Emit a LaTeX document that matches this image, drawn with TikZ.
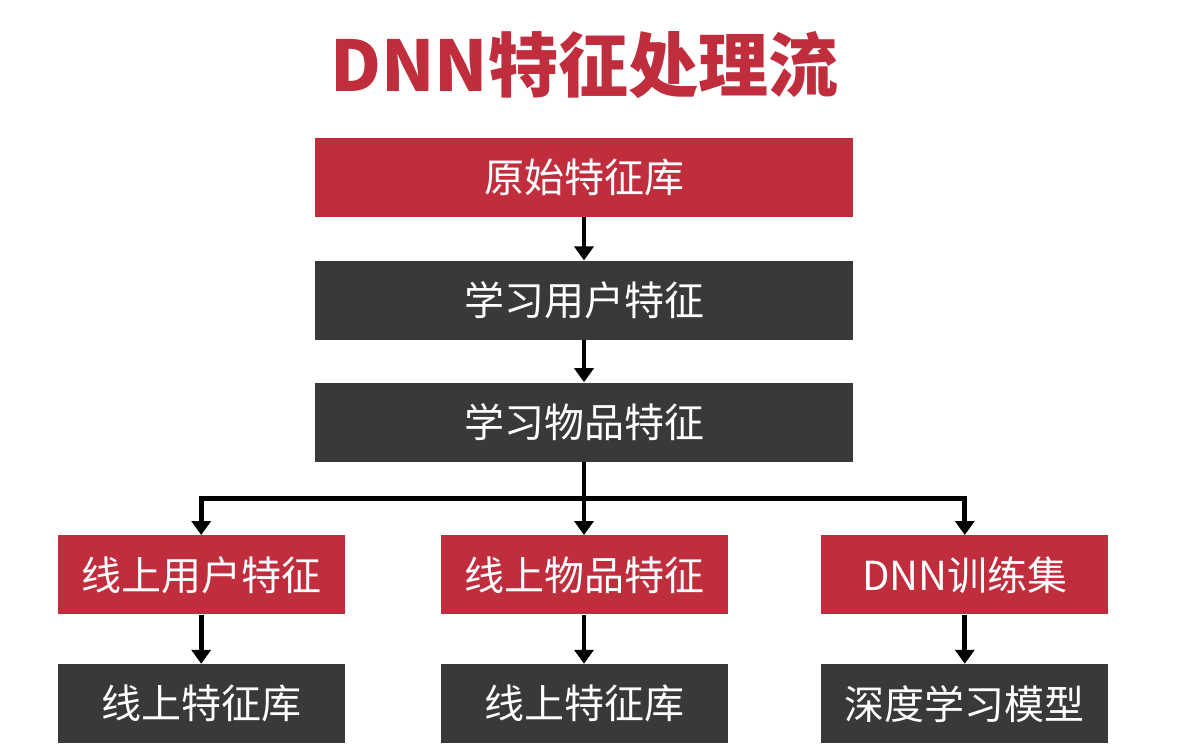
\documentclass[tikz,border=0pt]{standalone}
\usepackage{fontspec}
\newfontfamily\cjk{Noto Sans CJK SC}
\usetikzlibrary{positioning, arrows.meta, calc}
\definecolor{boxred}{RGB}{192,46,62}
\definecolor{boxdark}{RGB}{58,56,57}
\begin{document}
\begin{tikzpicture}[x=0.5pt, y=-0.5pt,
redbox/.style={rectangle, fill=boxred, text=white, font=\cjk\fontsize{20}{24}\selectfont, minimum width=269pt, minimum height=39.5pt, inner sep=0pt},
darkbox/.style={rectangle, fill=boxdark, text=white, font=\cjk\fontsize{20}{24}\selectfont, minimum width=269pt, minimum height=39.5pt, inner sep=0pt},
narrow/.style={minimum width=143.5pt},
arrow/.style={-{Triangle[width=9.5pt,length=7pt]}, line width=2.4pt, black},
]
\useasboundingbox (0,0) rectangle (1198,753);
%Title
\node[font=\cjk\bfseries\fontsize{35}{40}\selectfont, text=boxred] (title) at (584,65) {DNN特征处理流};
%Nodes
\node[redbox]      (raw)      at (584,177.5)                 {原始特征库};
\node[darkbox]     (user)     [below=21.5pt of raw]          {学习用户特征};
\node[darkbox]     (item)     [below=21pt of user]           {学习物品特征};
\node[redbox, narrow]  (onitem)   [below=36.5pt of item]     {线上物品特征};
\node[redbox, narrow]  (onuser)   [left=47.5pt of onitem]    {线上用户特征};
\node[redbox, narrow]  (train)    [right=46.5pt of onitem]   {DNN训练集};
\node[darkbox, narrow] (storeA)   [below=24.5pt of onuser]   {线上特征库};
\node[darkbox, narrow] (storeB)   [below=24.5pt of onitem]   {线上特征库};
\node[darkbox, narrow] (model)    [below=24.5pt of train]    {深度学习模型};
\coordinate (split) at ($(item.south)!0.5!(onitem.north)$);

%Lines
\draw[arrow] (raw.south) -- (user.north);
\draw[arrow] (user.south) -- (item.north);
\draw[arrow] (item.south) -- (onitem.north);
\draw[arrow] (split) -| (onuser.north);
\draw[arrow] (split) -| (train.north);
\draw[arrow] (onuser.south) -- (storeA.north);
\draw[arrow] (onitem.south) -- (storeB.north);
\draw[arrow] (train.south) -- (model.north);
\end{tikzpicture}
\end{document}
